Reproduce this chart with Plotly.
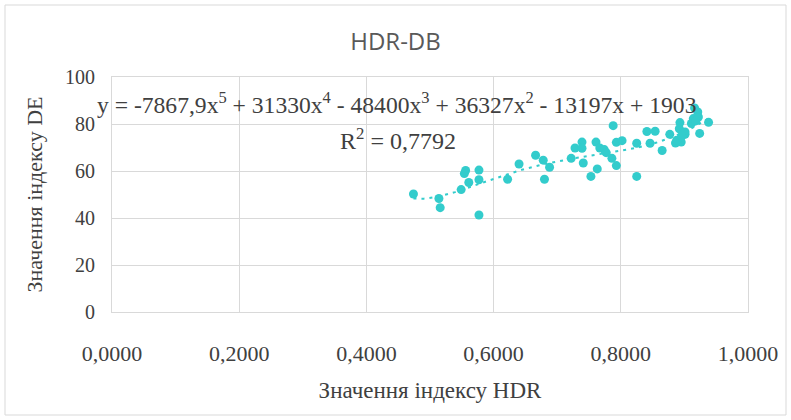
import numpy as np
import plotly.graph_objects as go

# HDR index values (x) and DE index values (y)
hdr = [0.474, 0.514, 0.516, 0.549, 0.556, 0.554, 0.561, 0.577, 0.577, 0.577,
       0.622, 0.640, 0.666, 0.678, 0.688, 0.680, 0.722, 0.728, 0.739, 0.739,
       0.741, 0.753, 0.761, 0.763, 0.767, 0.774, 0.777, 0.786, 0.788, 0.793,
       0.793, 0.802, 0.825, 0.825, 0.841, 0.846, 0.854, 0.865, 0.877, 0.886,
       0.893, 0.892, 0.895, 0.901, 0.901, 0.911, 0.916, 0.921, 0.914, 0.922,
       0.918, 0.924, 0.938, 0.888, 0.896]
de = [50.2, 48.3, 44.4, 52.1, 60.2, 58.9, 55.1, 60.4, 56.3, 41.3,
      56.5, 63.0, 66.7, 64.6, 61.6, 56.5, 65.4, 69.8, 72.3, 69.7,
      63.4, 57.7, 72.3, 60.9, 69.8, 69.1, 67.8, 65.4, 79.3, 62.3,
      72.2, 72.9, 71.8, 57.7, 76.8, 71.8, 76.9, 68.7, 75.6, 71.9,
      80.6, 78.0, 72.3, 75.6, 76.6, 80.2, 86.8, 85.1, 82.3, 83.0,
      81.3, 76.0, 80.7, 73.1, 74.9]

# Polynomial trendline coefficients as printed on the chart (highest power first)
trend_coef = [-7867.9, 31330, -48400, 36327, -13197, 1903]
r2_label = "0,7792"

x_ticks = [0.0, 0.2, 0.4, 0.6, 0.8, 1.0]
x_tick_labels = ["0,0000", "0,2000", "0,4000", "0,6000", "0,8000", "1,0000"]
y_ticks = [0, 20, 40, 60, 80, 100]

color = "#33CCCC"
txt = "#404040"
serif = "Liberation Serif, Times New Roman, serif"

xt = np.linspace(min(hdr), max(hdr), 200)
yt = np.polyval(trend_coef, xt)

fig = go.Figure()
fig.add_trace(go.Scatter(x=xt, y=yt, mode="lines",
                         line=dict(color=color, width=2, dash="3px,5px"),
                         hoverinfo="skip", showlegend=False))
fig.add_trace(go.Scatter(x=hdr, y=de, mode="markers",
                         marker=dict(color=color, size=9, line=dict(width=0)),
                         showlegend=False))

L, R, T, B = 112, 43, 77, 108
W, H = 791, 420
pw, ph = W - L - R, H - T - B

def px(xp):
    return (xp - L) / pw

def py(yp):
    return (H - B - yp) / ph

eq = ("y = -7867,9x<sup>5</sup> + 31330x<sup>4</sup> - 48400x<sup>3</sup> + "
      "36327x<sup>2</sup> - 13197x + 1903")

fig.update_layout(
    width=W, height=H, autosize=False,
    margin=dict(l=L, r=R, t=T, b=B, autoexpand=False),
    paper_bgcolor="white", plot_bgcolor="white",
    title=dict(text="HDR-DB", x=0.5, xanchor="center", y=1 - 42 / H, yanchor="middle",
               font=dict(family="Open Sans, sans-serif", size=24, color="#595959")),
    xaxis=dict(range=[0, 1], tickvals=x_ticks, ticktext=x_tick_labels, automargin=False,
               showgrid=True, gridcolor="#d9d9d9", gridwidth=1,
               zeroline=False, showline=True, linecolor="#d9d9d9", linewidth=1, mirror=True,
               ticks="", ticklabelstandoff=22,
               tickfont=dict(family=serif, size=22, color=txt),
               title=dict(text="Значення індексу HDR", standoff=16,
                          font=dict(family=serif, size=23, color=txt))),
    yaxis=dict(range=[0, 100], tickvals=y_ticks, automargin=False,
               showgrid=True, gridcolor="#d9d9d9", gridwidth=1,
               zeroline=False, showline=True, linecolor="#d9d9d9", linewidth=1, mirror=True,
               ticks="", ticklabelstandoff=12,
               tickfont=dict(family=serif, size=20, color=txt),
               title=dict(text="Значення індексу DE", standoff=16,
                          font=dict(family=serif, size=22, color=txt))),
    annotations=[
        dict(text=eq, xref="paper", yref="paper", x=px(95), y=py(103),
             xanchor="left", yanchor="middle", showarrow=False,
             font=dict(family=serif, size=23.6, color=txt)),
        dict(text="R<sup>2</sup> = " + r2_label, xref="paper", yref="paper",
             x=px(338), y=py(139), xanchor="left", yanchor="middle", showarrow=False,
             font=dict(family=serif, size=24, color=txt)),
    ],
    shapes=[dict(type="rect", xref="paper", yref="paper",
                 x0=px(5), x1=px(786), y0=py(415), y1=py(5),
                 line=dict(color="#d9d9d9", width=1), layer="below")],
)

fig.write_html("out.html", config={"displayModeBar": False},
               post_script="document.body.style.margin='0';document.body.style.overflow='hidden';")
